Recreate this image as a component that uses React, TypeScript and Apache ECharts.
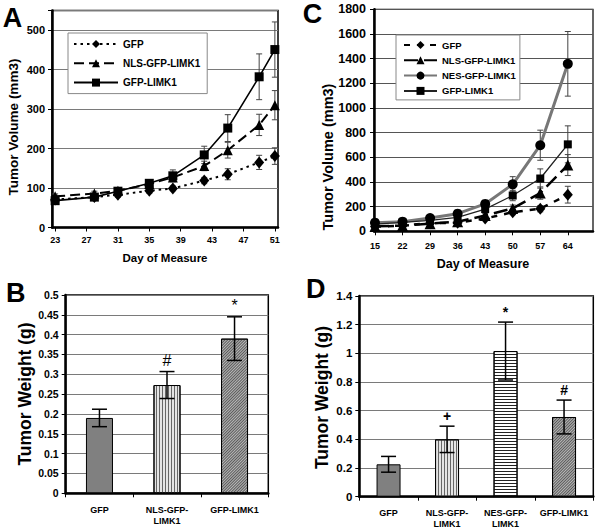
import React, { useEffect, useRef } from 'react';
import * as echarts from 'echarts';

const FONT = '"Liberation Sans", Arial, Helvetica, sans-serif';

// ---------- Panel A ----------
const daysA = [23, 28, 31, 35, 38, 42, 45, 49, 51];
const tickDaysA = [23, 27, 31, 35, 39, 43, 47, 51];
const gfpA = [71, 77, 83, 93, 99, 119, 135, 165, 181];
const gfpAErr = [5, 6, 6, 6, 6, 8, 14, 18, 21];
const nlsA = [79, 86, 93, 110, 127, 156, 196, 260, 310];
const nlsAErr = [6, 6, 6, 6, 8, 12, 20, 27, 37];
const limkA = [68, 77, 92, 112, 131, 184, 252, 382, 451];
const limkAErr = [8, 6, 6, 6, 15, 22, 34, 58, 70];

// ---------- Panel C ----------
const daysC = [15, 22, 29, 36, 43, 50, 57, 64];
const tickDaysC = [15, 22, 29, 36, 43, 50, 57, 64];
const gfpC = [38, 46, 66, 70, 103, 155, 183, 297];
const gfpCErr = [5, 5, 6, 8, 12, 20, 25, 68];
const nlsC = [40, 46, 62, 78, 128, 185, 310, 537];
const nlsCErr = [5, 5, 8, 10, 15, 28, 50, 85];
const nesC = [70, 78, 107, 143, 222, 381, 698, 1358];
const nesCErr = [10, 10, 12, 15, 20, 62, 122, 262];
const limkC = [58, 72, 88, 113, 180, 290, 428, 705];
const limkCErr = [8, 8, 10, 12, 18, 42, 78, 150];

// ---------- Panel B ----------
const catsB = ['GFP', 'NLS-GFP-\nLIMK1', 'GFP-LIMK1'];
const weightB = [0.19, 0.273, 0.39];
const weightBErr = [0.022, 0.034, 0.055];
const marksB = ['', '#', '*'];

// ---------- Panel D ----------
const catsD = ['GFP', 'NLS-GFP-\nLIMK1', 'NES-GFP-\nLIMK1', 'GFP-LIMK1'];
const weightD = [0.226, 0.4, 1.016, 0.556];
const weightDErr = [0.055, 0.092, 0.202, 0.118];
const marksD = ['', '+', '*', '#'];

// bar fill styles by construct
const barStyles: Record<string, any> = {
  'GFP': { color: '#808080', borderColor: '#000', borderWidth: 1 },
  'NLS': {
    color: '#e4e4e4', borderColor: '#000', borderWidth: 1,
    decal: { symbol: 'rect', symbolSize: 1, dashArrayX: [1, 2], dashArrayY: [1, 0], color: '#666' },
  },
  'NES': {
    color: '#ffffff', borderColor: '#000', borderWidth: 1,
    decal: { symbol: 'rect', symbolSize: 1, dashArrayX: [1, 0], dashArrayY: [1, 2], color: '#222' },
  },
  'LIMK': {
    color: '#b8b8b8', borderColor: '#000', borderWidth: 1,
    decal: { symbol: 'rect', symbolSize: 1, dashArrayX: [1, 0], dashArrayY: [1, 1], rotation: -Math.PI / 4, color: '#5a5a5a' },
  },
};
const styleKeysB = ['GFP', 'NLS', 'LIMK'];
const styleKeysD = ['GFP', 'NLS', 'NES', 'LIMK'];

function errorBars(xs: any[], ys: number[], errs: number[], color: string, lw: number, cap: number, marks?: string[], markFont?: string) {
  return {
    type: 'custom',
    silent: true,
    z: 3,
    encode: { x: 0, y: [1, 2] },
    data: xs.map((x, i) => [x, ys[i] - errs[i], ys[i] + errs[i]]),
    renderItem: (params: any, api: any) => {
      const x = api.value(0);
      const lo = api.value(1);
      const hi = api.value(2);
      const a = api.coord([x, lo]);
      const b = api.coord([x, hi]);
      const st = { stroke: color, lineWidth: lw };
      const children: any[] = [
        { type: 'line', shape: { x1: a[0], y1: a[1], x2: b[0], y2: b[1] }, style: st },
        { type: 'line', shape: { x1: a[0] - cap, y1: a[1], x2: a[0] + cap, y2: a[1] }, style: st },
        { type: 'line', shape: { x1: b[0] - cap, y1: b[1], x2: b[0] + cap, y2: b[1] }, style: st },
      ];
      const m = marks && marks[params.dataIndex];
      if (m) {
        children.push({
          type: 'text', x: b[0], y: b[1] - 3,
          style: { text: m, font: markFont, fill: '#000', align: 'center', verticalAlign: 'bottom' },
        });
      }
      return { type: 'group', children };
    },
  };
}

function lineSeries(name: string, xs: number[], ys: number[], symbol: string, size: any, line: any, symColor = '#000') {
  return {
    type: 'line',
    name,
    data: xs.map((x, i) => [x, ys[i]]),
    symbol,
    symbolSize: size,
    showAllSymbol: true,
    z: 4,
    lineStyle: line,
    itemStyle: { color: symColor, borderWidth: 0 },
    emphasis: { disabled: true },
  };
}

const letter = (t: string, x: number, y: number) => ({
  type: 'text', x, y,
  style: { text: t, font: `bold 27px ${FONT}`, fill: '#000', align: 'center', verticalAlign: 'middle' },
});
const vTitle = (t: string, x: number, y: number, size: number) => ({
  type: 'text', x, y, rotation: Math.PI / 2,
  style: { text: t, font: `bold ${size}px ${FONT}`, fill: '#000', align: 'center', verticalAlign: 'middle' },
});
const hTitle = (t: string, x: number, y: number, size: number) => ({
  type: 'text', x, y,
  style: { text: t, font: `bold ${size}px ${FONT}`, fill: '#000', align: 'center', verticalAlign: 'middle' },
});

const plain = (v: number) => String(v);

const optionA = {
  animation: false,
  grid: { left: 52, top: 10.5, width: 226, height: 217, show: true, borderColor: '#000', borderWidth: 1.5, outerBoundsMode: 'none' },
  legend: {
    orient: 'vertical', left: 68, top: 33,
    padding: [6, 7, 6, 5], itemGap: 9.3, itemWidth: 44, itemHeight: 10,
    backgroundColor: '#fff', borderColor: '#888', borderWidth: 1,
    textStyle: { fontFamily: FONT, fontWeight: 'bold', fontSize: 10, color: '#000' },
    data: ['GFP', 'NLS-GFP-LIMK1', 'GFP-LIMK1'],
    selectedMode: false,
  },
  xAxis: {
    type: 'value', min: 22.6, max: 51.4,
    axisLine: { lineStyle: { color: '#000', width: 2.5 } },
    axisTick: { show: true, length: 4, customValues: tickDaysA, lineStyle: { color: '#000' } },
    axisLabel: { customValues: tickDaysA, fontFamily: FONT, fontWeight: 'bold', fontSize: 9, color: '#000', margin: 8 },
    splitLine: { show: false },
  },
  yAxis: {
    type: 'value', min: 0, max: 550, interval: 100,
    axisLine: { show: true, lineStyle: { color: '#000', width: 2.5 } },
    axisTick: { show: true, length: 4, lineStyle: { color: '#000' } },
    axisLabel: { fontFamily: FONT, fontWeight: 'bold', fontSize: 11, color: '#000', margin: 7, formatter: (v: number) => (v > 500 ? '' : String(v)) },
    splitLine: { show: true, lineStyle: { color: '#7a7a7a', width: 1 } },
  },
  graphic: [letter('A', 12.5, 18), vTitle('Tumor Volume (mm3)', 13, 127, 13.5), hTitle('Day of Measure', 165, 258, 11.5)],
  series: [
    errorBars(daysA, gfpA, gfpAErr, '#444', 1, 3),
    errorBars(daysA, nlsA, nlsAErr, '#444', 1, 3),
    errorBars(daysA, limkA, limkAErr, '#444', 1, 3),
    lineSeries('GFP', daysA, gfpA, 'diamond', [10, 12], { color: '#000', width: 2, type: [2.5, 4] }),
    lineSeries('NLS-GFP-LIMK1', daysA, nlsA, 'triangle', 10, { color: '#000', width: 2, type: [10, 5] }),
    lineSeries('GFP-LIMK1', daysA, limkA, 'rect', 9, { color: '#000', width: 1.6, type: 'solid' }),
  ],
};

const optionC = {
  animation: false,
  grid: { left: 74, top: 9.3, width: 219, height: 222, show: true, borderColor: '#000', borderWidth: 1.2, outerBoundsMode: 'none' },
  legend: {
    orient: 'vertical', left: 96, top: 35,
    padding: [5, 4, 4, 7], itemGap: 5.3, itemWidth: 33, itemHeight: 10,
    backgroundColor: '#fff', borderColor: '#888', borderWidth: 1,
    textStyle: { fontFamily: FONT, fontWeight: 'bold', fontSize: 9.5, color: '#000' },
    data: ['GFP', 'NLS-GFP-LIMK1', 'NES-GFP-LIMK1', 'GFP-LIMK1'],
    selectedMode: false,
  },
  xAxis: {
    type: 'value', min: 14.75, max: 70.4,
    axisLine: { lineStyle: { color: '#000', width: 2.5 } },
    axisTick: { show: true, length: 4, customValues: tickDaysC, lineStyle: { color: '#000' } },
    axisLabel: { customValues: tickDaysC, fontFamily: FONT, fontWeight: 'bold', fontSize: 9, color: '#000', margin: 10 },
    splitLine: { show: false },
  },
  yAxis: {
    type: 'value', min: 0, max: 1800, interval: 200,
    axisLine: { show: true, lineStyle: { color: '#000', width: 2.5 } },
    axisTick: { show: true, length: 4, lineStyle: { color: '#000' } },
    axisLabel: { fontFamily: FONT, fontWeight: 'bold', fontSize: 12.5, color: '#000', margin: 8, formatter: plain },
    splitLine: { show: true, lineStyle: { color: '#555', width: 1 } },
  },
  graphic: [letter('C', 12.5, 14), vTitle('Tumor Volume (mm3)', 28, 157, 14.5), hTitle('Day of Measure', 183, 264, 12.5)],
  series: [
    errorBars(daysC, gfpC, gfpCErr, '#444', 1, 3),
    errorBars(daysC, nlsC, nlsCErr, '#444', 1, 3),
    errorBars(daysC, nesC, nesCErr, '#444', 1, 3),
    errorBars(daysC, limkC, limkCErr, '#444', 1, 3),
    lineSeries('GFP', daysC, gfpC, 'diamond', [10, 12], { color: '#000', width: 2.5, type: [6, 7] }),
    lineSeries('NLS-GFP-LIMK1', daysC, nlsC, 'triangle', 11, { color: '#000', width: 2.5, type: [14, 6] }),
    lineSeries('NES-GFP-LIMK1', daysC, nesC, 'circle', 10, { color: '#777', width: 3, type: 'solid' }),
    lineSeries('GFP-LIMK1', daysC, limkC, 'rect', 8, { color: '#222', width: 1.3, type: 'solid' }),
  ],
};

function barOption(cats: string[], vals: number[], errs: number[], marks: string[], keys: string[], grid: any, yMax: number, yInt: number, ySize: number, letterText: string, letterPos: number[], titlePos: number[], markFont: string, barW: string) {
  return {
    animation: false,
    grid: { ...grid, show: true, borderColor: '#000', borderWidth: 1.5, outerBoundsMode: 'none' },
    xAxis: {
      type: 'category', data: cats,
      axisLine: { lineStyle: { color: '#000', width: 2.5 } },
      axisTick: { show: true, length: 4, lineStyle: { color: '#000' } },
      axisLabel: { fontFamily: FONT, fontWeight: 'bold', fontSize: 9, color: '#000', margin: 11, lineHeight: 11, interval: 0 },
    },
    yAxis: {
      type: 'value', min: 0, max: yMax, interval: yInt,
      axisLine: { show: true, lineStyle: { color: '#000', width: 2.5 } },
      axisTick: { show: true, length: 4, lineStyle: { color: '#000' } },
      axisLabel: { fontFamily: FONT, fontWeight: 'bold', fontSize: ySize, color: '#000', margin: 7, formatter: plain },
      splitLine: { show: true, lineStyle: { color: '#7a7a7a', width: 1 } },
    },
    graphic: [letter(letterText, letterPos[0], letterPos[1]), vTitle('Tumor Weight (g)', titlePos[0], titlePos[1], 17.5)],
    series: [
      {
        type: 'bar', barWidth: barW, z: 2,
        data: vals.map((v, i) => ({ value: v, itemStyle: barStyles[keys[i]] })),
        emphasis: { disabled: true },
      },
      errorBars(cats.map((_, i) => i), vals, errs, '#000', 1.5, 7.5, marks, markFont),
    ],
  };
}

const optionB = barOption(catsB, weightB, weightBErr, marksB, styleKeysB,
  { left: 65.7, top: 25, width: 202.6, height: 198.3 }, 0.5, 0.05, 10.5,
  'B', [15.8, 22.5], [25, 124], `16px ${FONT}`, '40%');

const optionD = barOption(catsD, weightD, weightDErr, marksD, styleKeysD,
  { left: 59.3, top: 26, width: 234, height: 200.7 }, 1.4, 0.2, 11.5,
  'D', [15.8, 19], [21.7, 127.5], `bold 14px ${FONT}`, '41%');

function Chart({ option, box }: { option: any; box: { left: number; top: number; width: number; height: number } }) {
  const ref = useRef<HTMLDivElement>(null);
  useEffect(() => {
    if (!ref.current) return;
    const c = echarts.init(ref.current, null, { renderer: 'svg' });
    c.setOption(option);
    return () => c.dispose();
  }, []);
  return <div ref={ref} style={{ position: 'absolute', ...box }} />;
}

export default function App() {
  return (
    <div style={{ position: 'fixed', left: 0, top: 0, width: 600, height: 530, background: '#fff' }}>
      <Chart option={optionB} box={{ left: 0, top: 270, width: 300, height: 260 }} />
      <Chart option={optionD} box={{ left: 300, top: 270, width: 300, height: 260 }} />
      <Chart option={optionA} box={{ left: 0, top: 0, width: 300, height: 280 }} />
      <Chart option={optionC} box={{ left: 300, top: 0, width: 300, height: 280 }} />
    </div>
  );
}
